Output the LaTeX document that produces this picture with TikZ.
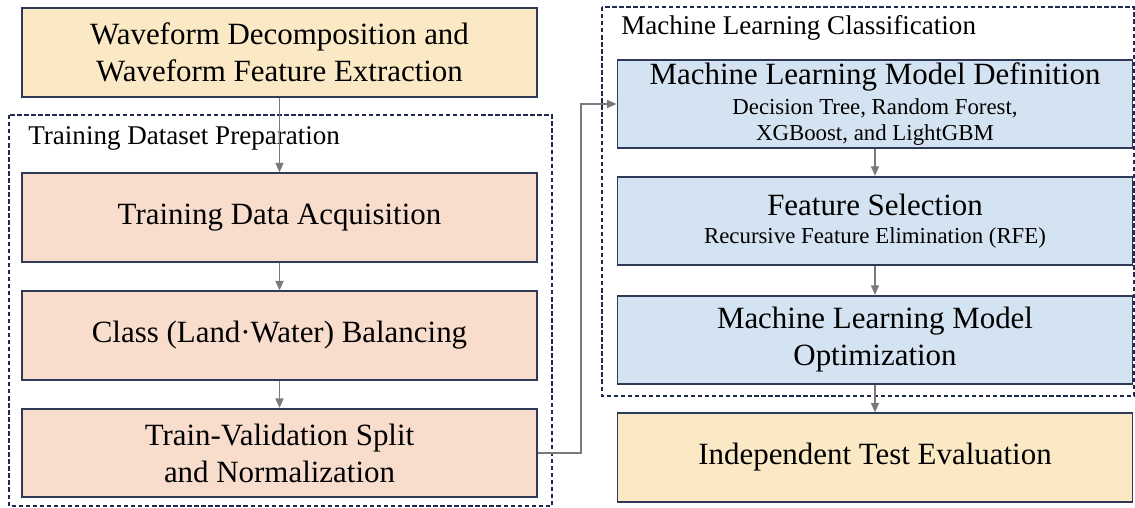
\documentclass[tikz,border=0pt]{standalone}
\usepackage{fontspec}
\setmainfont{Liberation Serif}
\usetikzlibrary{arrows.meta}
\definecolor{boxline}{HTML}{2E3A58}
\definecolor{frameline}{HTML}{1F2A4E}
\definecolor{arrowgray}{HTML}{7A7A7A}
\definecolor{yellowfill}{HTML}{FAE9C4}
\definecolor{pinkfill}{HTML}{F8DCCC}
\definecolor{bluefill}{HTML}{D4E3F1}
\newcommand\subtext[1]{{\fontsize{13}{15}\selectfont #1}}
\begin{document}
\begin{tikzpicture}[x=0.02cm,y=-0.02cm,
  stagebox/.style={draw=boxline,line width=0.9pt,minimum width=10.3cm,
    minimum height=1.77cm,align=center,inner sep=0pt,
    font=\fontsize{17.6}{21}\selectfont},
  grouplabel/.style={anchor=west,inner sep=0pt,font=\fontsize{15.4}{18}\selectfont},
  frame/.style={draw=frameline,line width=0.9pt,dash pattern=on 2.5pt off 1.5pt},
  flow/.style={draw=arrowgray,line width=1.1pt,-{Triangle[length=5.5pt,width=4.5pt]}}]
\useasboundingbox (0,0) rectangle (1135,507);
% group frames
\draw[frame] (9,115) rectangle (552,506);
\node[grouplabel] (prep) at (28,138) {Training Dataset Preparation};
\draw[frame] (602,7) rectangle (1134,396);
\node[grouplabel] (mlc) at (621,28) {Machine Learning Classification};
% left column
\node[stagebox,fill=yellowfill] (wave) at (279.5,52.5)
  {Waveform Decomposition and\\Waveform Feature Extraction};
\node[stagebox,fill=pinkfill] (acq) at (279.5,217.5) {Training Data Acquisition};
\node[stagebox,fill=pinkfill] (bal) at (279.5,335.5) {Class (Land·Water) Balancing};
\node[stagebox,fill=pinkfill] (split) at (279.5,453)
  {Train-Validation Split\\and Normalization};
% right column
\node[stagebox,fill=bluefill] (mdef) at (875,104)
  {Machine Learning Model Definition\\[-4pt]
   \subtext{Decision Tree, Random Forest,}\\[-6pt]
   \subtext{XGBoost, and LightGBM}};
\node[stagebox,fill=bluefill] (fsel) at (875,221)
  {Feature Selection\\[-5pt]\subtext{Recursive Feature Elimination (RFE)}};
\node[stagebox,fill=bluefill] (mopt) at (875,340)
  {Machine Learning Model\\Optimization};
\node[stagebox,fill=yellowfill] (test) at (875,457.5) {Independent Test Evaluation};
% connectors
\draw[flow] (wave) -- (acq);
\draw[flow] (acq) -- (bal);
\draw[flow] (bal) -- (split);
\draw[flow] (split.east) -- ++(43,0) |- (mdef.west);
\draw[flow] (mdef) -- (fsel);
\draw[flow] (fsel) -- (mopt);
\draw[flow] (mopt) -- (test);
\end{tikzpicture}
\end{document}
